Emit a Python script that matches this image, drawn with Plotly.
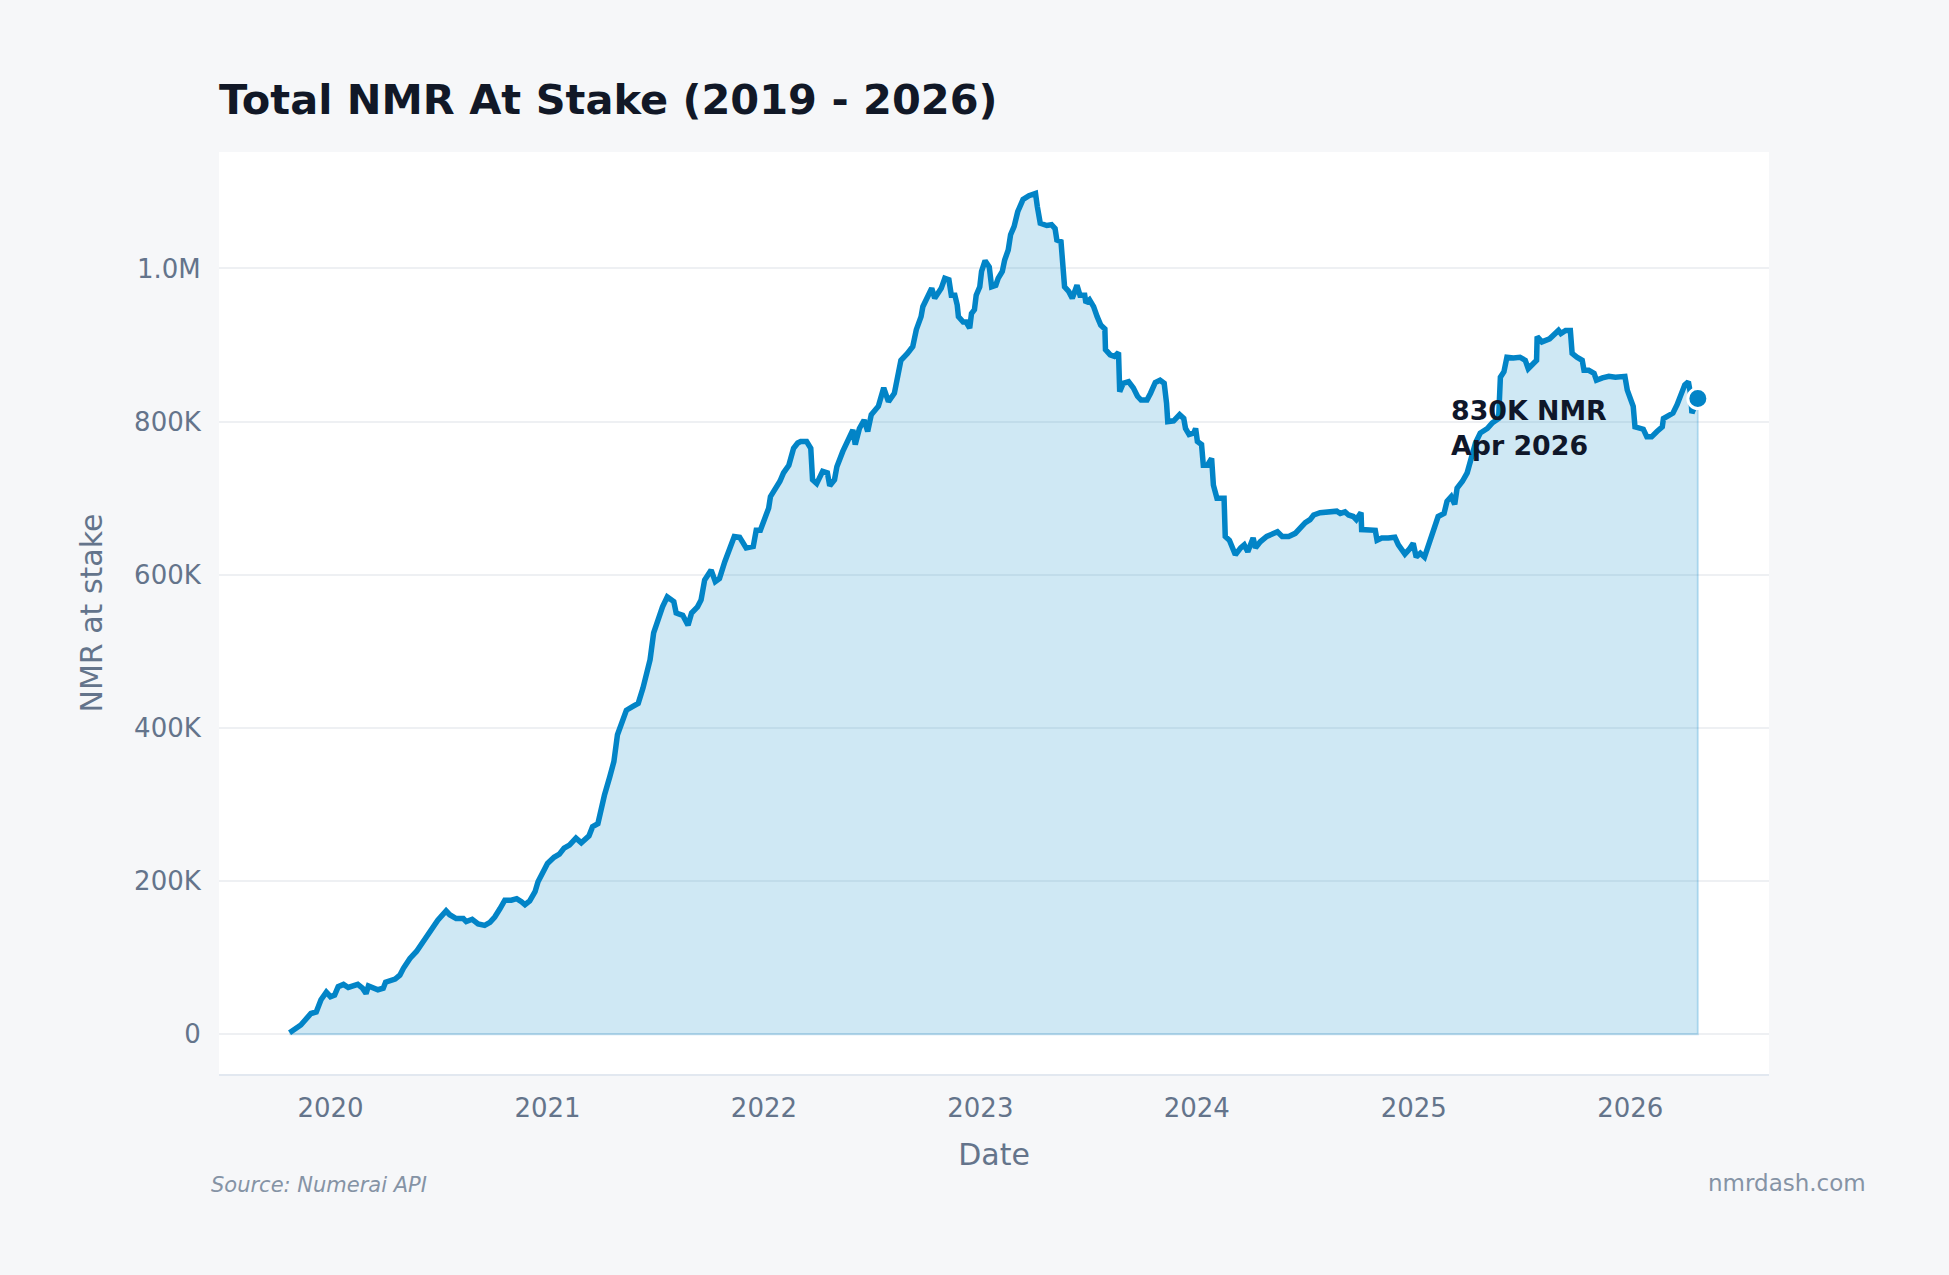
import plotly.graph_objects as go

dates = [
    "2019-10-24", "2019-11-12", "2019-11-29", "2019-12-08", "2019-12-16", "2019-12-25",
    "2020-01-01", "2020-01-08", "2020-01-14", "2020-01-23", "2020-01-31", "2020-02-16",
    "2020-02-24", "2020-03-01", "2020-03-05", "2020-03-21", "2020-03-30", "2020-04-03",
    "2020-04-19", "2020-04-27", "2020-05-03", "2020-05-14", "2020-05-25", "2020-06-05",
    "2020-06-16", "2020-06-30", "2020-07-14", "2020-07-20", "2020-07-31", "2020-08-12",
    "2020-08-17", "2020-08-27", "2020-09-06", "2020-09-17", "2020-09-26", "2020-10-04",
    "2020-10-13", "2020-10-21", "2020-11-01", "2020-11-10", "2020-11-18", "2020-11-24",
    "2020-12-02", "2020-12-11", "2020-12-16", "2020-12-25",
    "2021-01-01", "2021-01-12", "2021-01-21", "2021-01-29", "2021-02-07", "2021-02-18",
    "2021-02-27", "2021-03-12", "2021-03-18", "2021-03-27", "2021-03-31", "2021-04-07",
    "2021-04-16", "2021-04-23", "2021-04-29", "2021-05-05", "2021-05-14", "2021-05-25",
    "2021-06-03", "2021-06-11", "2021-06-16", "2021-06-23", "2021-06-29", "2021-07-07",
    "2021-07-14", "2021-07-22", "2021-08-02", "2021-08-06", "2021-08-17", "2021-08-26",
    "2021-09-01", "2021-09-11", "2021-09-17", "2021-09-23", "2021-10-04", "2021-10-11",
    "2021-10-18", "2021-10-27", "2021-11-04", "2021-11-12", "2021-11-21", "2021-12-02",
    "2021-12-14", "2021-12-19", "2021-12-26",
    "2022-01-01", "2022-01-09", "2022-01-12", "2022-01-20", "2022-01-28", "2022-02-03",
    "2022-02-12", "2022-02-20", "2022-02-27", "2022-03-04", "2022-03-14", "2022-03-21",
    "2022-03-24", "2022-03-31", "2022-04-10", "2022-04-18", "2022-04-22", "2022-04-30",
    "2022-05-04", "2022-05-14", "2022-05-22", "2022-05-31", "2022-06-04", "2022-06-11",
    "2022-06-19", "2022-06-25", "2022-07-01", "2022-07-13", "2022-07-22", "2022-07-30",
    "2022-08-09", "2022-08-15", "2022-08-20", "2022-08-31", "2022-09-09", "2022-09-15",
    "2022-09-23", "2022-09-26", "2022-10-05", "2022-10-11", "2022-10-16", "2022-10-27",
    "2022-11-02", "2022-11-09", "2022-11-13", "2022-11-19", "2022-11-23", "2022-11-25",
    "2022-12-03", "2022-12-08", "2022-12-14", "2022-12-17", "2022-12-22", "2022-12-25",
    "2022-12-31",
    "2023-01-03", "2023-01-09", "2023-01-16", "2023-01-20", "2023-01-27", "2023-01-31",
    "2023-02-07", "2023-02-11", "2023-02-17", "2023-02-21", "2023-02-27", "2023-03-05",
    "2023-03-14", "2023-03-24", "2023-04-04", "2023-04-07", "2023-04-12", "2023-04-23",
    "2023-05-01", "2023-05-07", "2023-05-10", "2023-05-17", "2023-05-20", "2023-05-23",
    "2023-05-30", "2023-06-05", "2023-06-13", "2023-06-18", "2023-06-26", "2023-06-28",
    "2023-07-04", "2023-07-11", "2023-07-17", "2023-07-23", "2023-07-30", "2023-07-31",
    "2023-08-08", "2023-08-15", "2023-08-22", "2023-08-24", "2023-08-30", "2023-09-08",
    "2023-09-16", "2023-09-23", "2023-09-29", "2023-10-09", "2023-10-15", "2023-10-23",
    "2023-10-31", "2023-11-07", "2023-11-11", "2023-11-13", "2023-11-23", "2023-12-03",
    "2023-12-10", "2023-12-13", "2023-12-19", "2023-12-27", "2023-12-30",
    "2024-01-02", "2024-01-09", "2024-01-12", "2024-01-19", "2024-01-26", "2024-01-29",
    "2024-02-04", "2024-02-16", "2024-02-18", "2024-02-25", "2024-03-01", "2024-03-06",
    "2024-03-15", "2024-03-21", "2024-03-27", "2024-04-05", "2024-04-09", "2024-04-17",
    "2024-04-28", "2024-05-07", "2024-05-16", "2024-05-24", "2024-06-04", "2024-06-15",
    "2024-06-22", "2024-07-02", "2024-07-10", "2024-07-16", "2024-07-27", "2024-08-10",
    "2024-08-24", "2024-08-30", "2024-09-07", "2024-09-13", "2024-09-21", "2024-09-26",
    "2024-10-04", "2024-10-05", "2024-10-16", "2024-10-28", "2024-10-31", "2024-11-08",
    "2024-11-19", "2024-11-30", "2024-12-06", "2024-12-17", "2024-12-24", "2024-12-31",
    "2025-01-05", "2025-01-12", "2025-01-19", "2025-01-26", "2025-02-03", "2025-02-11",
    "2025-02-21", "2025-02-26", "2025-03-05", "2025-03-11", "2025-03-15", "2025-03-24",
    "2025-04-01", "2025-04-08", "2025-04-15", "2025-04-23", "2025-05-05", "2025-05-13",
    "2025-05-24", "2025-05-27", "2025-06-02", "2025-06-07", "2025-06-18", "2025-06-29",
    "2025-07-08", "2025-07-13", "2025-07-22", "2025-07-27", "2025-07-28", "2025-08-05",
    "2025-08-18", "2025-08-28", "2025-09-02", "2025-09-06", "2025-09-14", "2025-09-22",
    "2025-09-25", "2025-10-03", "2025-10-12", "2025-10-15", "2025-10-23", "2025-11-01",
    "2025-11-05", "2025-11-15", "2025-11-26", "2025-12-07", "2025-12-16", "2025-12-23",
    "2025-12-27",
    "2026-01-02", "2026-01-06", "2026-01-09", "2026-01-18", "2026-01-23", "2026-01-29",
    "2026-02-06", "2026-02-15", "2026-02-24", "2026-02-26", "2026-03-07", "2026-03-14",
    "2026-03-21", "2026-03-29", "2026-04-03", "2026-04-09", "2026-04-13", "2026-04-15",
    "2026-04-25",
]

stake_k = [
    2, 12, 27, 29, 45, 55,
    49, 51, 62, 65, 61, 65,
    60, 53, 63, 58, 60, 68,
    72, 77, 86, 99, 108, 121,
    134, 149, 161, 156, 151, 151,
    147, 150, 144, 142, 146, 153,
    164, 175, 175, 177, 173, 169,
    174, 186, 199, 214,
    223, 231, 235, 243, 247, 256,
    250, 259, 271, 275, 291, 312,
    336, 356, 391, 406, 423, 428,
    432, 452, 469, 489, 524, 543,
    558, 571, 565, 550, 547, 534,
    550, 558, 567, 593, 606, 591,
    595, 617, 635, 650, 649, 635,
    637, 658, 658,
    672, 687, 702, 711, 722, 733,
    743, 765, 772, 774, 774, 765,
    724, 719, 735, 733, 716, 724,
    741, 761, 774, 789, 770, 791,
    802, 787, 809, 820, 844, 826,
    837, 859, 880, 889, 898, 920,
    937, 950, 963, 974, 961, 974,
    987, 985, 965, 965, 952, 937,
    930, 930, 922, 941, 946, 965,
    976,
    996, 1010, 1002, 976, 978, 987,
    996, 1011, 1024, 1044, 1055, 1074,
    1090, 1095, 1098, 1081, 1059, 1056,
    1057, 1052, 1037, 1035, 1011, 976,
    970, 961, 978, 965, 965, 955,
    959, 950, 937, 926, 921, 894,
    887, 885, 890, 839, 850, 852,
    844, 833, 828, 828, 837, 851,
    854, 850, 824, 800, 801, 809,
    804, 791, 783, 785, 791,
    774, 770, 743, 743, 752, 717,
    700, 700, 650, 645, 635, 626,
    635, 639, 630, 648, 635, 643,
    650, 654, 656, 650, 650, 654,
    660, 668, 672, 678, 681, 682,
    683, 680, 682, 678, 676, 672,
    681, 659, 658, 658, 645, 648,
    648, 649, 639, 627, 633, 641,
    623, 628, 623, 639, 658, 676,
    680, 696, 702, 692, 713, 722,
    733, 750, 772, 785, 791, 798,
    804, 858, 865, 884, 883, 884,
    880, 869, 876, 880, 911, 904,
    908, 915, 919, 915, 919, 919,
    889, 884, 880, 867, 867, 863,
    854, 857, 859, 858, 859, 859,
    841,
    828, 820, 793, 791, 790, 780,
    780, 787, 793, 804, 809, 811,
    822, 839, 848, 852, 835, 811,
    830,
]

stake = [v * 1000 for v in stake_k]

year_ticks = ["2020-01-01", "2021-01-01", "2022-01-01", "2023-01-01",
              "2024-01-01", "2025-01-01", "2026-01-01"]
year_labels = ["2020", "2021", "2022", "2023", "2024", "2025", "2026"]
y_ticks = [0, 200000, 400000, 600000, 800000, 1000000]
y_labels = ["0", "200K", "400K", "600K", "800K", "1.0M"]

last_label_1 = "830K NMR"
last_label_2 = "Apr 2026"

LINE = "#0284c7"
FONT = "DejaVu Sans"
MUTED = "#64748b"

fig = go.Figure()

# filled area (closed polygon down to zero)
fig.add_trace(go.Scatter(
    x=dates + [dates[-1], dates[0]],
    y=stake + [0, 0],
    mode="lines",
    fill="toself",
    fillcolor="rgba(2,132,199,0.19)",
    line=dict(color="rgba(2,132,199,0.22)", width=2),
    hoverinfo="skip",
    showlegend=False,
))

fig.add_trace(go.Scatter(
    x=dates,
    y=stake,
    mode="lines",
    line=dict(color=LINE, width=5.5),
    showlegend=False,
))

fig.add_trace(go.Scatter(
    x=[dates[-1]],
    y=[stake[-1]],
    mode="markers",
    marker=dict(color=LINE, size=20, line=dict(color="white", width=3)),
    showlegend=False,
))

fig.update_layout(
    width=1949,
    height=1275,
    margin=dict(l=219, r=180, t=152, b=201),
    paper_bgcolor="#f6f7f9",
    plot_bgcolor="#ffffff",
    font=dict(family=FONT, color=MUTED),
    title=dict(
        text="Total NMR At Stake (2019 - 2026)",
        font=dict(family=FONT, size=41.5, color="#111827", weight="bold"),
        x=219 / 1949, xref="container", xanchor="left",
        y=1 - 99 / 1275, yref="container", yanchor="middle",
    ),
    xaxis=dict(
        range=["2019-06-27", "2026-08-23"],
        tickvals=year_ticks,
        ticktext=year_labels,
        tickfont=dict(size=26, color=MUTED),
        ticks="outside", ticklen=10, tickcolor="rgba(0,0,0,0)",
        showgrid=False,
        zeroline=False,
        showline=True, linecolor="#e2e8f0", linewidth=2,
        title=dict(text="Date", font=dict(size=30, color=MUTED), standoff=22),
    ),
    yaxis=dict(
        range=[-52000, 1152000],
        tickvals=y_ticks,
        ticktext=y_labels,
        tickfont=dict(size=26, color=MUTED),
        ticks="outside", ticklen=12, tickcolor="rgba(0,0,0,0)",
        showgrid=True, gridcolor="#eef0f3", gridwidth=1.5,
        zeroline=False,
        showline=False,
        title=dict(text="NMR at stake", font=dict(size=30, color=MUTED), standoff=22),
    ),
    annotations=[
        dict(
            text=last_label_1 + "<br>" + last_label_2,
            xref="paper", yref="paper",
            x=(1449 - 219) / 1550, y=(1074 - 428) / 922,
            xanchor="left", yanchor="middle", align="left",
            showarrow=False,
            font=dict(family=FONT, size=26.8, color="#0f172a", weight="bold"),
        ),
        dict(
            text="Source: Numerai API",
            xref="paper", yref="paper",
            x=(209 - 219) / 1550, y=(1074 - 1185) / 922,
            xanchor="left", yanchor="middle",
            showarrow=False,
            font=dict(family=FONT, size=21, color="#8593a5", style="italic"),
        ),
        dict(
            text="nmrdash.com",
            xref="paper", yref="paper",
            x=(1868 - 219) / 1550, y=(1074 - 1183) / 922,
            xanchor="right", yanchor="middle",
            showarrow=False,
            font=dict(family=FONT, size=23, color="#8593a5"),
        ),
    ],
)

fig.write_html("out.html")
